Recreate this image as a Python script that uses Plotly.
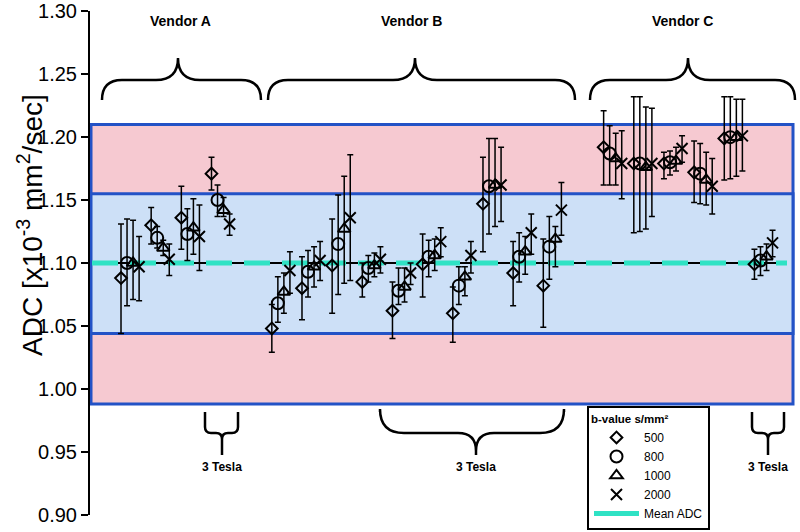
import plotly.graph_objects as go

# ---------------- data ----------------
b_values = ["500", "800", "1000", "2000"]
scanner_slot = [0, 1, 2, 3, 5, 6, 7, 8, 9, 10, 11, 12, 13, 14, 16, 17, 18, 19, 20, 21]

adc_500 = [1.088, 1.130, 1.136, 1.171, 1.048, 1.080, 1.098, 1.085, 1.062, 1.099,
           1.060, 1.147, 1.092, 1.082, 1.192, 1.179, 1.179, 1.172, 1.199, 1.099]
hi_500 = [1.131, 1.144, 1.161, 1.184, 1.067, 1.105, 1.135, 1.100, 1.085, 1.123,
          1.081, 1.184, 1.117, 1.119, 1.221, 1.232, 1.188, 1.197, 1.232, 1.111]
lo_500 = [1.044, 1.115, 1.111, 1.158, 1.029, 1.055, 1.060, 1.073, 1.040, 1.073,
          1.037, 1.109, 1.066, 1.049, 1.162, 1.124, 1.167, 1.148, 1.166, 1.087]

adc_800 = [1.100, 1.120, 1.123, 1.150, 1.068, 1.093, 1.115, 1.096, 1.078, 1.105,
           1.082, 1.161, 1.105, 1.113, 1.187, 1.179, 1.180, 1.171, 1.200, 1.102]
hi_800 = [1.135, 1.129, 1.143, 1.162, 1.089, 1.110, 1.154, 1.106, 1.096, 1.118,
          1.097, 1.199, 1.124, 1.137, 1.209, 1.232, 1.189, 1.195, 1.232, 1.113]
lo_800 = [1.066, 1.112, 1.102, 1.137, 1.053, 1.073, 1.075, 1.085, 1.067, 1.089,
          1.067, 1.123, 1.085, 1.087, 1.162, 1.125, 1.170, 1.147, 1.167, 1.090]

adc_1000 = [1.100, 1.112, 1.128, 1.142, 1.077, 1.097, 1.127, 1.098, 1.081, 1.106,
            1.089, 1.162, 1.109, 1.119, 1.183, 1.176, 1.181, 1.166, 1.200, 1.105]
hi_1000 = [1.134, 1.118, 1.151, 1.152, 1.092, 1.113, 1.169, 1.108, 1.096, 1.119,
           1.097, 1.199, 1.121, 1.129, 1.203, 1.224, 1.192, 1.188, 1.230, 1.115]
lo_1000 = [1.071, 1.106, 1.107, 1.137, 1.060, 1.081, 1.084, 1.089, 1.069, 1.094,
           1.074, 1.129, 1.091, 1.097, 1.162, 1.127, 1.173, 1.146, 1.169, 1.094]

adc_2000 = [1.097, 1.103, 1.121, 1.131, 1.094, 1.102, 1.136, 1.103, 1.092, 1.117,
            1.106, 1.162, 1.124, 1.142, 1.179, 1.179, 1.191, 1.161, 1.201, 1.116]
hi_2000 = [1.121, 1.115, 1.146, 1.139, 1.109, 1.117, 1.186, 1.113, 1.100, 1.128,
           1.117, 1.192, 1.139, 1.164, 1.205, 1.223, 1.201, 1.183, 1.230, 1.126]
lo_2000 = [1.070, 1.090, 1.094, 1.122, 1.076, 1.086, 1.086, 1.092, 1.083, 1.105,
           1.092, 1.133, 1.107, 1.122, 1.151, 1.137, 1.180, 1.139, 1.173, 1.105]

mean_adc = 1.10
band1 = [1.044, 1.155]   # inner (blue) band
band2 = [0.988, 1.210]   # outer (pink) band

y_ticks = [0.90, 0.95, 1.00, 1.05, 1.10, 1.15, 1.20, 1.25, 1.30]
vendor_labels = ["Vendor A", "Vendor B", "Vendor C"]
field_label = "3 Tesla"
legend_title = "b-value s/mm²"
mean_label = "Mean ADC"
y_title = "ADC [x10<sup>-3</sup> mm<sup>2</sup>/sec]"

# ---------------- layout geometry ----------------
W, H = 800, 532
ML, MR, MT, MB = 90, 0, 11, 17
PW, PH = W - ML - MR, H - MT - MB
XMIN, XMAX = -1.028, 22.51
YMIN, YMAX = 0.8998, 1.3002


def px2x(px):
    return XMIN + (px - ML) / PW * (XMAX - XMIN)


def py2y(py):
    return YMAX - (py - MT) / PH * (YMAX - YMIN)


FONT = "Arial, Liberation Sans, sans-serif"
TEAL = "#2fe2c4"
PINK = "#f6c9d1"
LBLUE = "#cde0f7"
BORDER = "#2352c6"

fig = go.Figure()

series = [
    (adc_500, hi_500, lo_500, "diamond-open", 9, 0.0),
    (adc_800, hi_800, lo_800, "circle-open", 12, 0.2),
    (adc_1000, hi_1000, lo_1000, "triangle-up-open", 11, 0.4),
    (adc_2000, hi_2000, lo_2000, "x-thin-open", 11, 0.6),
]
for bv, (adc, hi, lo, sym, sz, off) in zip(b_values, series):
    fig.add_trace(go.Scatter(
        x=[s + off for s in scanner_slot], y=adc, mode="markers", name=bv,
        marker=dict(symbol=sym, size=sz, color="black",
                    line=dict(width=2, color="black")),
        error_y=dict(type="data", symmetric=False,
                     array=[h - a for h, a in zip(hi, adc)],
                     arrayminus=[a - l for a, l in zip(adc, lo)],
                     color="black", thickness=1.5, width=3),
    ))

fig.add_trace(go.Scatter(x=[None], y=[None], mode="lines", name=mean_label,
                         line=dict(color=TEAL, width=5)))

shapes = []
rx0, rx1 = px2x(91), px2x(793)
shapes.append(dict(type="rect", xref="x", yref="y", x0=rx0, x1=rx1,
                   y0=band2[0], y1=band2[1], fillcolor=PINK,
                   line=dict(color=BORDER, width=3), layer="below"))
shapes.append(dict(type="rect", xref="x", yref="y", x0=rx0, x1=rx1,
                   y0=band1[0], y1=band1[1], fillcolor=LBLUE,
                   line=dict(color=BORDER, width=3), layer="below"))
mx0, mx1 = px2x(92), px2x(787)
shapes.append(dict(type="line", xref="x", yref="y", x0=mx0, x1=mx1,
                   y0=mean_adc, y1=mean_adc, line=dict(color="black", width=2),
                   layer="below"))
shapes.append(dict(type="line", xref="x", yref="y", x0=mx0, x1=mx1,
                   y0=mean_adc, y1=mean_adc,
                   line=dict(color=TEAL, width=5, dash="26px,12px"),
                   layer="below"))


def brace(x0, x1, xm, y_end, y_arm, y_tip, r, r2):
    s = 1 if y_arm > y_end else -1
    t = 1 if y_tip > y_arm else -1
    pts = [
        ("M", [(x0, y_end)]),
        ("L", [(x0, y_arm - s * r)]),
        ("Q", [(x0, y_arm), (x0 + r, y_arm)]),
        ("L", [(xm - r2, y_arm)]),
        ("Q", [(xm, y_arm), (xm, y_arm + t * r2)]),
        ("L", [(xm, y_tip)]),
        ("L", [(xm, y_arm + t * r2)]),
        ("Q", [(xm, y_arm), (xm + r2, y_arm)]),
        ("L", [(x1 - r, y_arm)]),
        ("Q", [(x1, y_arm), (x1, y_arm - s * r)]),
        ("L", [(x1, y_end)]),
    ]
    out = []
    for cmd, pp in pts:
        out.append(cmd + " ".join(f"{px2x(a):.4f},{py2y(b):.5f}" for a, b in pp))
    return " ".join(out)


top_braces = [(102, 261, 178), (268, 575, 415), (590, 795, 688)]
for x0, x1, xm in top_braces:
    shapes.append(dict(type="path", xref="x", yref="y",
                       path=brace(x0, x1, xm, 100, 80, 58, 20, 22),
                       line=dict(color="black", width=2.5)))
bottom_braces = [(205, 238, 222, 6, 6), (380, 564, 476, 24, 18), (752, 784, 768, 6, 6)]
for x0, x1, xm, r, r2 in bottom_braces:
    shapes.append(dict(type="path", xref="x", yref="y",
                       path=brace(x0, x1, xm, 412, 433, 455, r, r2),
                       line=dict(color="black", width=2.5)))

annotations = []
for lab, px in zip(vendor_labels, [180, 411, 682]):
    annotations.append(dict(x=px2x(px), y=py2y(21), xref="x", yref="y",
                            text=f"<b>{lab}</b>", showarrow=False,
                            font=dict(family=FONT, size=14, color="black")))
for px in [222, 476, 768]:
    annotations.append(dict(x=px2x(px), y=py2y(467), xref="x", yref="y",
                            text=f"<b>{field_label}</b>", showarrow=False,
                            font=dict(family=FONT, size=12, color="black")))
annotations.append(dict(x=(30 - ML) / PW, y=1 - (225 - MT) / PH,
                        xref="paper", yref="paper", text=y_title, textangle=-90,
                        showarrow=False, xanchor="center", yanchor="middle",
                        font=dict(family=FONT, size=28, color="black")))

fig.update_layout(
    width=W, height=H,
    margin=dict(l=ML, r=MR, t=MT, b=MB, autoexpand=False),
    paper_bgcolor="white", plot_bgcolor="white",
    shapes=shapes, annotations=annotations,
    font=dict(family=FONT, color="black"),
    xaxis=dict(range=[XMIN, XMAX], visible=False),
    yaxis=dict(range=[YMIN, YMAX], tickvals=y_ticks,
               ticktext=[f"{v:.2f}" for v in y_ticks],
               showline=True, linecolor="black", linewidth=2,
               ticks="outside", ticklen=7, tickwidth=2, tickcolor="black",
               tickfont=dict(family=FONT, size=20, color="black"),
               ticklabeloverflow="allow",
               showgrid=False, zeroline=False),
    legend=dict(x=(587 - ML) / PW, y=1 - (406 - MT) / PH,
                xanchor="left", yanchor="top",
                bgcolor="white", bordercolor="black", borderwidth=2,
                font=dict(family=FONT, size=12, color="black"),
                title=dict(text=f"<b>{legend_title}</b>",
                           font=dict(family=FONT, size=11.5, color="black")),
                itemwidth=45, tracegroupgap=0),
    showlegend=True,
)

fig.write_html("out.html", config={"displayModeBar": False},
               post_script="document.body.style.margin='0';document.body.style.overflow='hidden';")
